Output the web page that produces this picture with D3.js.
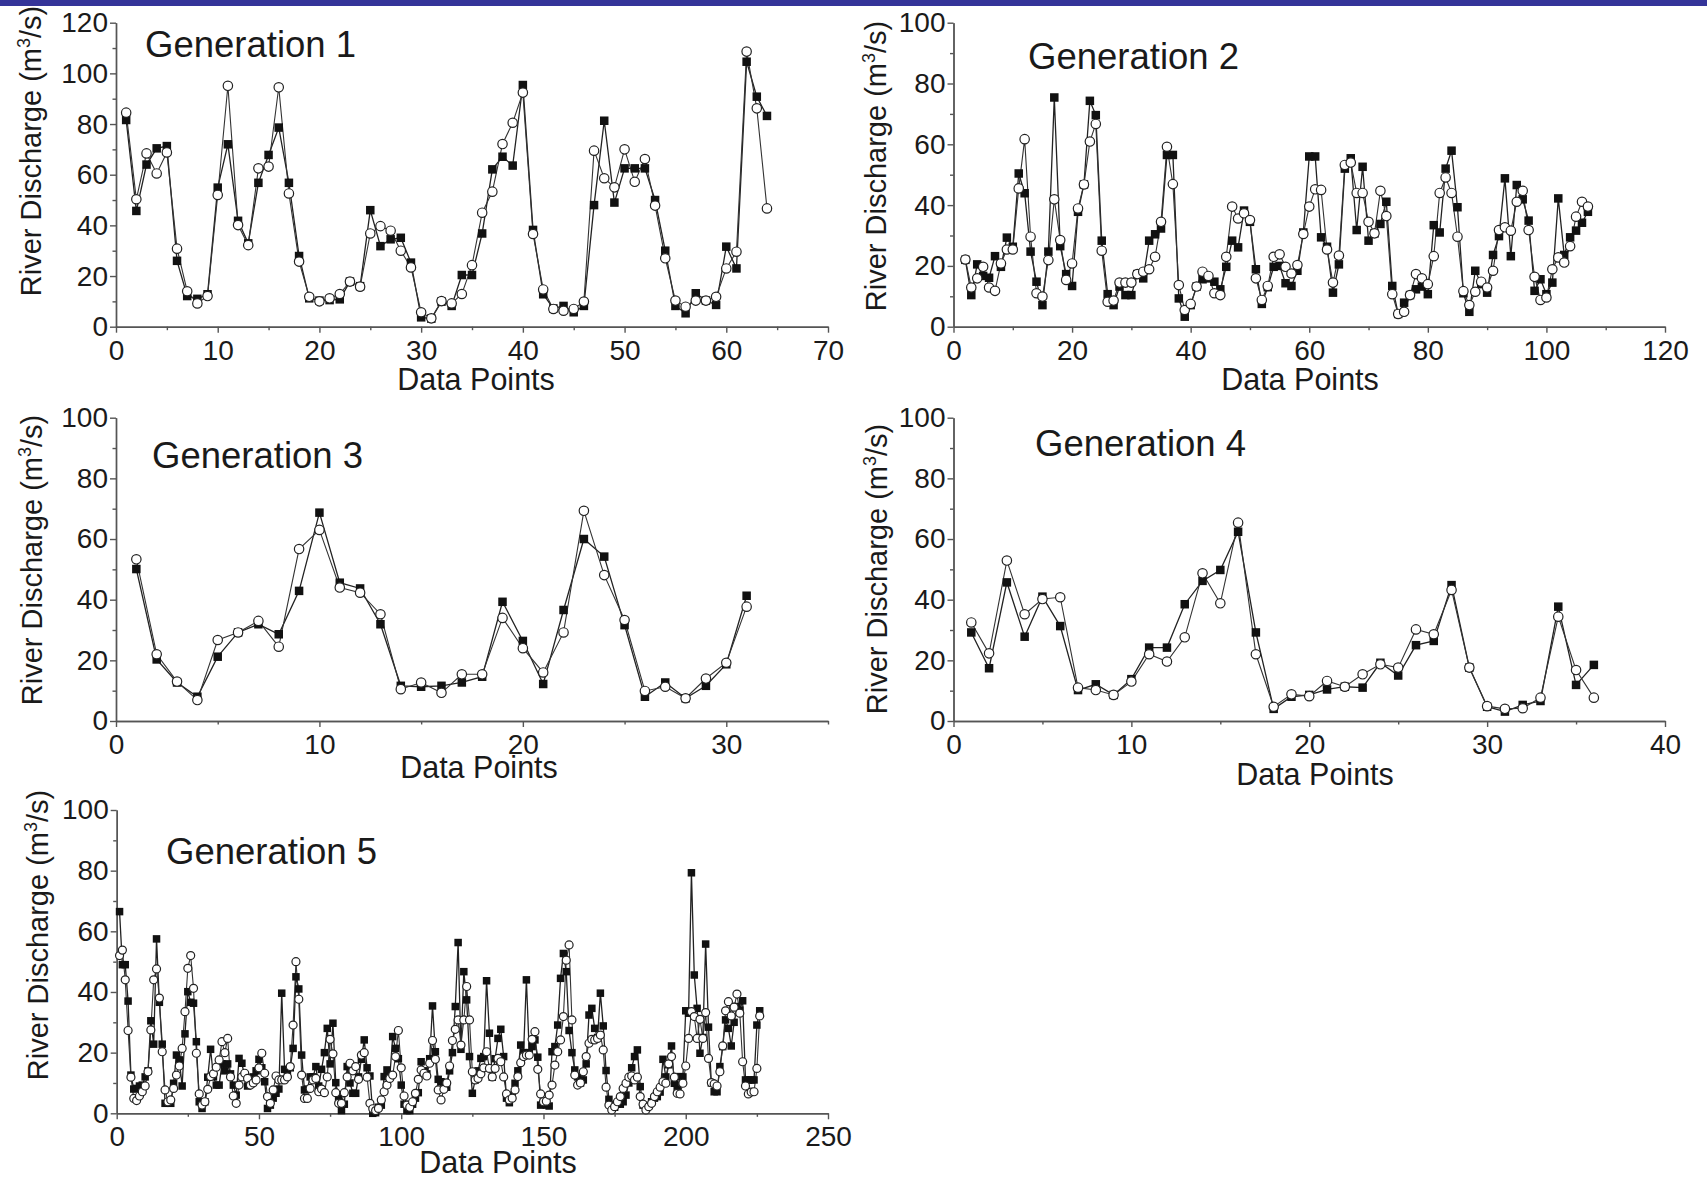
<!DOCTYPE html>
<html>
<head>
<meta charset="utf-8">
<script src="https://cdn.jsdelivr.net/npm/d3@7"></script>
<style>
  body { margin: 0; background: #fff; }
  text { font-family: "Liberation Sans", Arial, sans-serif; fill: #1a1a1a; }
</style>
</head>
<body>
<div class="chart"></div>
<script>
// values: filled squares and open circles for each generation
var gen1Square = [81.6, 45.7, 64, 70.4, 71.3, 26, 12.1, 11, 12.8, 54.9, 72, 41.8, 32.9, 56.8, 67.8, 78.6, 56.8, 27.9, 11.2, 10.3,
  10.5, 10.8, 17.8, 16, 46, 31.8, 34.5, 35.1, 25.3, 3.7, 3.2, 9.9, 8.2, 20.4, 20.4, 36.8, 62.1, 67.1, 63.6, 95.4,
  38.2, 12.8, 7.2, 8.2, 5.7, 8.2, 48, 81.3, 49, 62.5, 62.5, 62.5, 50, 30, 8.2, 5.3, 13.2, 10.3, 8.6, 31.6,
  23, 104.6, 90.8, 83.2];
var gen1Circle = [84.5, 50.3, 68.4, 60.5, 68.8, 30.8, 14, 9.2, 12.1, 52, 95.1, 40.1, 32.2, 62.5, 63.2, 94.5, 52.6, 25.7, 11.8, 10,
  11.2, 12.9, 17.8, 15.8, 36.8, 39.7, 37.9, 30, 23.4, 5.7, 3.3, 10.1, 9.2, 12.9, 24.3, 45, 53.3, 72.1, 80.5, 92.4,
  36.6, 14.7, 7, 6.3, 7, 9.9, 69.5, 58.6, 55, 70, 57.2, 66.2, 47.8, 27, 10.3, 7.9, 10.3, 10.3, 11.8, 23,
  29.6, 108.6, 86.2, 46.7];

var gen2FirstPoint = 2;
var gen2Square = [22, 10.4, 20.5, 16.7, 16.1, 23.2, 19.7, 29.3, 26.3, 50.4, 43.9, 24.7, 14.8, 7.1, 24.7, 75.4, 26.5, 17.3, 13.4, 37.8,
  46.8, 74.3, 69.6, 28.3, 10.7, 7.1, 13.2, 10.4, 10.4, 17.3, 15.9, 28.3, 30.4, 32.3, 56.5, 56.5, 9.3, 3.3, 7.1, 13.2,
  15.6, 15.9, 14.8, 12.3, 19.7, 28.3, 26.1, 38.2, 34.5, 18.9, 7.5, 13, 19.7, 20, 14.3, 13.4, 18.4, 31, 56, 56,
  29.4, 26.3, 11.2, 20.5, 52, 55.4, 31.8, 52.6, 28.3, 30.7, 33.8, 41.1, 13.4, 4.2, 7.9, 10.4, 12.3, 13.2, 10.7, 33.4,
  31, 52, 57.9, 39.3, 11, 4.9, 18.4, 14, 11.2, 23.6, 29.8, 48.8, 23.2, 46.6, 41.9, 34.9, 11.8, 15.6, 10.7, 14.5,
  42.2, 23.6, 29.4, 31.6, 34.2, 37.8];
var gen2Circle = [22.1, 12.9, 15.9, 19.7, 12.9, 11.8, 20.8, 25.4, 25.4, 45.5, 61.7, 29.6, 11, 9.9, 21.9, 41.9, 28.5, 15.4, 20.8, 38.9,
  46.8, 60.9, 66.7, 25, 8.2, 8.6, 14.5, 14.5, 14.5, 17.3, 18.1, 18.9, 23, 34.5, 59.2, 46.9, 13.7, 5.5, 7.5, 13.2,
  18.1, 16.7, 11, 10.4, 23, 39.5, 35.6, 37.3, 35.1, 15.9, 8.8, 13.4, 23, 23.8, 19.7, 17.5, 20.3, 30.5, 39.5, 45.2,
  45, 25.4, 14.5, 23.4, 53.2, 54, 44, 44, 34.5, 30.7, 44.7, 36.4, 10.7, 4.2, 4.9, 10.4, 17.3, 15.9, 14, 23.2,
  44, 49.1, 44, 29.6, 11.7, 7.1, 11.5, 14.8, 12.9, 18.4, 31.8, 32.7, 31.6, 41.1, 44.7, 31.8, 16.4, 8.8, 9.6, 18.9,
  22.8, 21.1, 26.5, 36.2, 41.1, 39.5];

var gen3Square = [50.1, 20.3, 12.7, 8, 21.2, 29.2, 31.9, 28.6, 42.9, 68.7, 45.6, 43.7, 31.9, 11.6, 11.3, 11.6, 12.7, 14.6, 39.3, 26.4,
  12.2, 36.6, 60, 54.2, 31.6, 8, 12.7, 7.5, 11.6, 18.7, 41.3];
var gen3Circle = [53.3, 22, 13, 6.9, 26.7, 29.2, 33, 24.5, 56.7, 63, 44, 42.3, 35.2, 10.5, 12.7, 9.3, 15.4, 15.4, 34, 24,
  16, 29.2, 69.3, 48.1, 33.3, 9.9, 11.3, 7.5, 14, 19.2, 37.7];

var gen4Square = [29.2, 17.4, 45.7, 27.8, 41, 31.3, 10.2, 12.1, 8.6, 13.8, 24.2, 24.2, 38.5, 46.2, 49.8, 62.4, 29.2, 4, 8, 8.6,
  10.4, 11.3, 11, 19.2, 15, 25, 26.4, 44.8, 17.6, 4.7, 3.1, 5.3, 6.6, 37.7, 11.9, 18.5];
var gen4Circle = [32.5, 22.3, 52.9, 35.2, 40.2, 40.8, 11, 10.2, 8.6, 13, 22, 19.6, 27.6, 48.7, 38.8, 65.4, 22, 4.7, 8.8, 8.2,
  13.2, 11.3, 15.4, 18.7, 17.6, 30.2, 28.6, 43.2, 17.6, 4.9, 4, 4.2, 7.7, 34.4, 16.8, 7.7];

var gen5Square = [66.5, 49, 49, 37, 12.6, 8, 8.2, 9, 9.3, 12, 14, 30.5, 22.8, 57.5, 36.6, 22.8, 3.3, 3.5, 3.3, 9.9,
  19.2, 17.6, 9, 26.2, 40.1, 36.6, 36.3, 23.6, 3.8, 1.6, 3.8, 11.9, 21.1, 12, 9.3, 9.3, 16.3, 14, 16.3, 13,
  9.3, 6, 18.1, 16.5, 12, 9, 10, 12, 14, 17.8, 15, 10.4, 1.6, 2.7, 5, 6.6, 8, 39.6, 14.5, 13,
  15, 21.4, 45, 41, 19.2, 7.7, 8, 12, 12, 15.4, 9, 14.5, 20, 28, 16.3, 29.7, 10.1, 5, 0.9, 3,
  15.4, 10, 6.6, 6.6, 12, 17.8, 24.2, 15, 12.3, 0, 0.2, 2, 2.7, 12.1, 14.3, 12, 25.3, 21.4, 18, 9.3,
  3, 0.9, 0.9, 3, 5, 6.8, 17, 14, 13, 18, 35.4, 20.3, 11.2, 10.4, 9, 8.6, 14, 20, 35.2, 56.3,
  21.1, 46.7, 37.4, 18.7, 6.6, 11, 14, 18.1, 18.7, 43.7, 26.4, 11.9, 18, 24.7, 27.7, 18.7, 5, 3.5, 6, 9.9,
  14, 22.5, 20, 44, 20, 22, 24.2, 18.5, 2.7, 3, 2.7, 2.4, 20.3, 22, 29.1, 44.5, 52.7, 46.7, 27.3, 20,
  14.3, 12, 10, 11, 16.3, 32.4, 34.6, 28, 25, 39.6, 28.8, 14.1, 4.6, 2.7, 2, 3, 3, 3.8, 6, 10,
  15, 18.7, 20.9, 8.8, 2.7, 2, 2.5, 3.8, 5, 5.5, 7, 17.8, 12, 16, 22.2, 9.9, 8, 12.1, 12, 33.8,
  33, 79.3, 45.6, 34.6, 19.8, 25, 55.8, 28.4, 10, 7.1, 7.1, 15.4, 22, 30.8, 28, 22.2, 30, 35.2, 34, 37.1,
  11, 11, 11, 11, 29.1, 33.8];
var gen5Circle = [52, 53.8, 44, 27.3, 11.9, 4.9, 4.2, 5.7, 7.1, 9, 13.7, 27.5, 44, 47.6, 38, 20.3, 7.7, 3.8, 4.4, 8.2,
  12.6, 15.6, 21.4, 33.5, 47.8, 52, 41.2, 19.8, 6.4, 2.7, 3.8, 7.9, 12.1, 13, 15.2, 17.6, 23.6, 20, 24.7, 12,
  5.7, 3.3, 9.3, 12, 13.2, 11.5, 9.3, 10, 11, 15, 19.8, 13.2, 5.5, 3.3, 7.7, 12.3, 11, 11, 11, 12,
  15.4, 29.1, 50, 37.6, 12.6, 4.9, 4.9, 8.2, 11, 11.5, 7.1, 8, 6.8, 12, 24.4, 19.6, 6.8, 3.3, 3.3, 6.8,
  12, 16.5, 14, 15.4, 11.2, 19.2, 20, 11.9, 3.3, 1.5, 0.9, 1.6, 4.4, 7.1, 9.3, 11.5, 12.6, 18.7, 27.3, 15,
  5.7, 2.7, 2, 3.8, 6.6, 11.2, 14.3, 13.2, 12.3, 16.5, 24, 17.8, 7.7, 4.4, 7.9, 10, 15.6, 24, 27.7, 30.8,
  22.5, 30.8, 41.8, 30.8, 13.7, 11, 11.5, 13, 15, 20.3, 14.8, 12, 14.8, 18.1, 17, 12, 6.4, 4.4, 5, 7.7,
  12.1, 16.7, 18.7, 19.2, 19.2, 24.4, 26.9, 14.5, 6.4, 3.8, 4, 6, 9.3, 15.9, 20.3, 24.2, 31.9, 50.5, 55.5, 30.8,
  12.6, 9.3, 10, 13.7, 18.7, 23.1, 24.4, 24.2, 24.7, 25.8, 20.9, 8.6, 2.7, 1.1, 2.2, 3.8, 5.5, 8.2, 9.9, 11.9,
  12.3, 11, 11.9, 5.5, 3, 1.1, 2.2, 3.3, 5.5, 7.1, 8.6, 10.4, 9.9, 16.3, 18.7, 11.9, 6.6, 6.4, 9.9, 15.6,
  24.7, 33.5, 31.9, 24.7, 31, 24.7, 33.2, 18.1, 10.1, 9.7, 9, 13.7, 22.2, 33.8, 36.8, 32.1, 35, 39.3, 33, 17,
  9, 6.4, 7, 7.1, 14.8, 32.1];

var titles = ['Generation 1', 'Generation 2', 'Generation 3', 'Generation 4', 'Generation 5'];
var xLabel = 'Data Points';
var yLabel = 'River Discharge (m';

var panels = [
  { title: titles[0], squares: gen1Square, circles: gen1Circle, first: 1, xMax: 70, xStep: 10, yMax: 120,
    left: 116, right: 828, top: 22.7, bottom: 326.7, tx: 145, ty: 57, ylx: 41, yly: 151, xlx: 476, xly: 390, sq: 8.5, r: 4.7 },
  { title: titles[1], squares: gen2Square, circles: gen2Circle, first: gen2FirstPoint, xMax: 120, xStep: 20, yMax: 100,
    left: 953.5, right: 1665, top: 22.7, bottom: 326.7, tx: 1028, ty: 69, ylx: 886, yly: 166, xlx: 1300, xly: 390, sq: 8.5, r: 4.7 },
  { title: titles[2], squares: gen3Square, circles: gen3Circle, first: 1, xMax: 35, xStep: 10, yMax: 100,
    left: 116, right: 828, top: 417.7, bottom: 721, tx: 152, ty: 468, ylx: 42, yly: 560, xlx: 479, xly: 778, sq: 8.5, r: 4.7 },
  { title: titles[3], squares: gen4Square, circles: gen4Circle, first: 1, xMax: 40, xStep: 10, yMax: 100,
    left: 953.5, right: 1665, top: 417.7, bottom: 721, tx: 1035, ty: 456, ylx: 887, yly: 569, xlx: 1315, xly: 785, sq: 8.5, r: 4.7 },
  { title: titles[4], squares: gen5Square, circles: gen5Circle, first: 1, xMax: 250, xStep: 50, yMax: 100,
    left: 116.7, right: 828, top: 810, bottom: 1113.3, tx: 166, ty: 864, ylx: 48, yly: 935, xlx: 498, xly: 1173, sq: 7.5, r: 4 }
];

var svg = d3.select('.chart')
  .append('svg')
  .attr('width', 1707)
  .attr('height', 1179);

svg.append('rect')
  .attr('width', 1707)
  .attr('height', 6)
  .style('fill', '#343499');

panels.forEach(function (p) {
  var x = d3.scaleLinear().domain([0, p.xMax]).range([p.left, p.right]);
  var y = d3.scaleLinear().domain([0, p.yMax]).range([p.bottom, p.top]);
  var g = svg.append('g');

  // axes: major ticks with labels, minor ticks without
  var xAxis = d3.axisBottom(x).tickValues(d3.range(0, p.xMax + 1, p.xStep)).tickSize(6).tickPadding(7).tickSizeOuter(0);
  var xMinor = d3.axisBottom(x).tickValues(d3.range(p.xStep / 2, p.xMax + 1, p.xStep)).tickSize(3.5).tickFormat('').tickSizeOuter(0);
  var yAxis = d3.axisLeft(y).tickValues(d3.range(0, p.yMax + 1, 20)).tickSize(6).tickPadding(2).tickSizeOuter(0);
  var yMinor = d3.axisLeft(y).tickValues(d3.range(10, p.yMax, 20)).tickSize(3.5).tickFormat('').tickSizeOuter(0);

  [[xAxis, 'translate(0,' + p.bottom + ')'], [xMinor, 'translate(0,' + p.bottom + ')'],
   [yAxis, 'translate(' + p.left + ',0)'], [yMinor, 'translate(' + p.left + ',0)']].forEach(function (a) {
    var ag = g.append('g').attr('transform', a[1]).call(a[0]);
    ag.attr('font-family', null).attr('font-size', null);
    ag.selectAll('path, line').attr('stroke', '#555').attr('stroke-width', 1.4);
    ag.selectAll('text').style('font-size', '28px').attr('fill', '#1a1a1a');
  });

  var line = d3.line()
    .x(function (d, i) { return x(i + p.first); })
    .y(function (d) { return y(d); });

  g.append('path').datum(p.squares).attr('d', line)
    .attr('fill', 'none').attr('stroke', '#222').attr('stroke-width', 1.3);
  g.append('path').datum(p.circles).attr('d', line)
    .attr('fill', 'none').attr('stroke', '#333').attr('stroke-width', 1.1);

  g.selectAll('.sq').data(p.squares).enter().append('rect')
    .attr('x', function (d, i) { return x(i + p.first) - p.sq / 2; })
    .attr('y', function (d) { return y(d) - p.sq / 2; })
    .attr('width', p.sq).attr('height', p.sq)
    .attr('fill', '#111');

  g.selectAll('.ci').data(p.circles).enter().append('circle')
    .attr('cx', function (d, i) { return x(i + p.first); })
    .attr('cy', function (d) { return y(d); })
    .attr('r', p.r)
    .attr('fill', '#fff').attr('stroke', '#222').attr('stroke-width', 1.2);

  g.append('text').attr('x', p.tx).attr('y', p.ty)
    .style('font-size', '36.5px').text(p.title);

  g.append('text').attr('x', p.xlx).attr('y', p.xly)
    .attr('text-anchor', 'middle').style('font-size', '30.5px').text(xLabel);

  var yl = g.append('text')
    .attr('transform', 'translate(' + p.ylx + ',' + p.yly + ') rotate(-90)')
    .attr('text-anchor', 'middle').style('font-size', '29px');
  yl.append('tspan').text(yLabel);
  yl.append('tspan').attr('dy', -11).style('font-size', '18px').text('3');
  yl.append('tspan').attr('dy', 11).text('/s)');
});
</script>
</body>
</html>
